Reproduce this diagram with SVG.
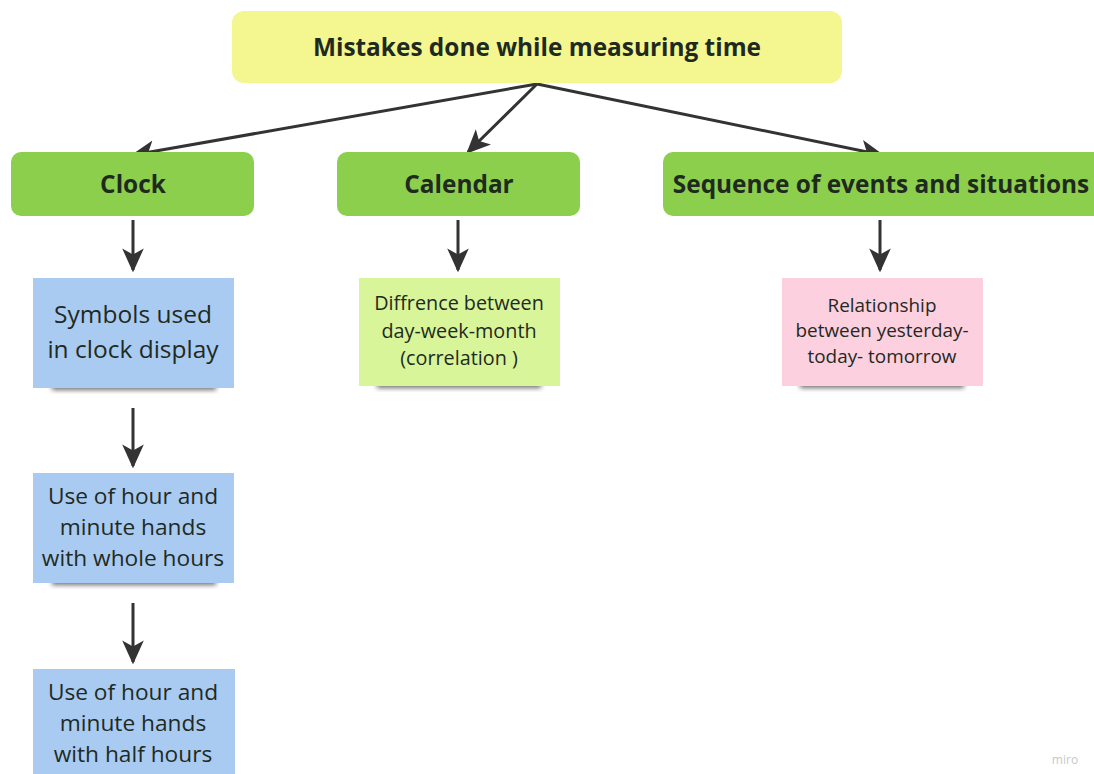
<svg xmlns="http://www.w3.org/2000/svg" width="1094" height="774" viewBox="0 0 1094 774">
<defs>
<marker id="ah" viewBox="0 0 10 10" refX="9" refY="5" markerWidth="8" markerHeight="8" markerUnits="strokeWidth" orient="auto">
<path d="M0,0.5 L10,5 L0,9.5 L2.5,5 z" fill="#333"/>
</marker>
<filter id="sh" x="-10%" y="-50%" width="120%" height="200%">
<feGaussianBlur stdDeviation="2.5"/>
</filter>
<style>
.t{font-family:"Open Sans","Noto Sans","Liberation Sans",sans-serif;fill:#1f2a1f;text-anchor:middle}
.b{font-weight:bold;font-size:24.4px}
.c{stroke:#333;stroke-width:3;fill:none;marker-end:url(#ah)}
.green{fill:#8ccf4d}
.shadow{fill:#333;opacity:0.7;filter:url(#sh)}
</style>
</defs>
<rect width="1094" height="774" fill="#fff"/>
<g id="connectors">
<line class="c" x1="537" y1="84" x2="133" y2="155"/>
<line class="c" x1="537" y1="84" x2="468" y2="152"/>
<line class="c" x1="537" y1="84" x2="882" y2="155"/>
<line class="c" x1="133" y1="220" x2="133" y2="270"/>
<line class="c" x1="458" y1="220" x2="458" y2="270"/>
<line class="c" x1="880" y1="220" x2="880" y2="270"/>
<line class="c" x1="133" y1="408" x2="133" y2="466"/>
<line class="c" x1="133" y1="603" x2="133" y2="662"/>
</g>
<g id="root">
<rect x="232" y="11" width="610" height="72" rx="12" fill="#f4f690"/>
<text class="t b" x="537" y="56">Mistakes done while measuring time</text>
</g>
<g id="clock">
<rect class="green" x="11" y="152" width="243" height="64" rx="10"/>
<text class="t b" x="133" y="193">Clock</text>
</g>
<g id="calendar">
<rect class="green" x="337" y="152" width="243" height="64" rx="10"/>
<text class="t b" x="459" y="193">Calendar</text>
</g>
<g id="sequence">
<rect class="green" x="663" y="152" width="445" height="64" rx="10"/>
<text class="t b" x="881" y="193">Sequence of events and situations</text>
</g>
<g id="symbols">
<rect class="shadow" x="52" y="382" width="164" height="8"/>
<rect x="33" y="278" width="201" height="110" fill="#a9cbf2"/>
<text class="t" font-size="24.5" x="133" y="323">Symbols used</text>
<text class="t" font-size="24.5" x="133" y="358">in clock display</text>
</g>
<g id="difference">
<rect class="shadow" x="377" y="380" width="164" height="8"/>
<rect x="359" y="278" width="201" height="108" fill="#d8f59a"/>
<text class="t" font-size="19.8" x="459" y="310">Diffrence between</text>
<text class="t" font-size="19.8" x="459" y="338">day-week-month</text>
<text class="t" font-size="19.8" x="459" y="365">(correlation )</text>
</g>
<g id="relationship">
<rect class="shadow" x="800" y="380" width="164" height="8"/>
<rect x="782" y="278" width="201" height="108" fill="#fdd0e0"/>
<text class="t" font-size="18.9" x="882" y="312">Relationship</text>
<text class="t" font-size="18.9" x="882" y="337">between yesterday-</text>
<text class="t" font-size="18.9" x="882" y="363">today- tomorrow</text>
</g>
<g id="whole">
<rect class="shadow" x="52" y="577" width="164" height="8"/>
<rect x="33" y="473" width="201" height="110" fill="#a9cbf2"/>
<text class="t" font-size="22.7" x="133" y="504">Use of hour and</text>
<text class="t" font-size="22.7" x="133" y="535">minute hands</text>
<text class="t" font-size="22.7" x="133" y="566">with whole hours</text>
</g>
<g id="half">
<rect x="33" y="669" width="202" height="110" fill="#a9cbf2"/>
<text class="t" font-size="22.7" x="133" y="700">Use of hour and</text>
<text class="t" font-size="22.7" x="133" y="731">minute hands</text>
<text class="t" font-size="22.7" x="133" y="762">with half hours</text>
</g>
<text x="1065" y="764" font-family="'Open Sans','Liberation Sans',sans-serif" font-size="12" fill="#c8c8c8" text-anchor="middle">miro</text>
</svg>
